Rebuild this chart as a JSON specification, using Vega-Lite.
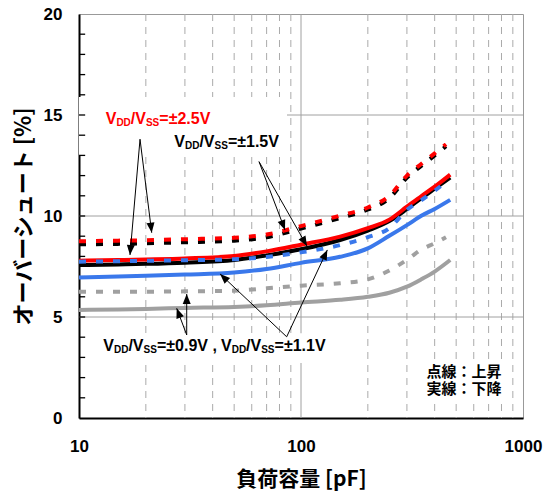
{
  "$schema": "https://vega.github.io/schema/vega-lite/v6.json",
  "width": 444,
  "height": 404,
  "autosize": "none",
  "padding": {"left": 79, "top": 14, "right": 26, "bottom": 82},
  "background": "white",
  "config": {
    "view": {"stroke": "#999999", "strokeWidth": 1},
    "font": "Liberation Sans",
    "axisX": {
      "grid": false, "ticks": false, "domainColor": "black", "domainWidth": 2,
      "labelFont": "Liberation Sans", "labelFontWeight": "bold", "labelFontSize": 17,
      "labelColor": "black", "labelPadding": 20, "labelFlush": false, "labelOverlap": false,
      "titleFont": "Noto Sans CJK JP", "titleFontWeight": "bold", "titleFontSize": 21,
      "titleColor": "black", "titlePadding": 14, "zindex": 1
    },
    "axisY": {
      "grid": false, "ticks": false,
      "domainColor": "black", "domainWidth": 2,
      "labelFont": "Liberation Sans", "labelFontWeight": "bold", "labelFontSize": 17,
      "labelColor": "black", "labelPadding": 17, "labelFlush": false, "labelOverlap": false,
      "titleFont": "Noto Sans CJK JP", "titleFontWeight": "bold", "titleFontSize": 22,
      "titleColor": "black", "titlePadding": 8, "zindex": 1
    }
  },
  "datasets": {
    "curves": [
      {"s": "gf", "x": 10, "y": 5.35}, {"s": "gf", "x": 15, "y": 5.37}, {"s": "gf", "x": 20, "y": 5.4}, {"s": "gf", "x": 30, "y": 5.45}, {"s": "gf", "x": 50, "y": 5.5}, {"s": "gf", "x": 70, "y": 5.58}, {"s": "gf", "x": 100, "y": 5.72}, {"s": "gf", "x": 150, "y": 5.85}, {"s": "gf", "x": 200, "y": 6.0}, {"s": "gf", "x": 250, "y": 6.2}, {"s": "gf", "x": 300, "y": 6.5}, {"s": "gf", "x": 350, "y": 6.88}, {"s": "gf", "x": 400, "y": 7.25}, {"s": "gf", "x": 470, "y": 7.82},
      {"s": "gr", "x": 10, "y": 6.25}, {"s": "gr", "x": 15, "y": 6.25}, {"s": "gr", "x": 20, "y": 6.25}, {"s": "gr", "x": 30, "y": 6.27}, {"s": "gr", "x": 50, "y": 6.3}, {"s": "gr", "x": 70, "y": 6.42}, {"s": "gr", "x": 100, "y": 6.55}, {"s": "gr", "x": 150, "y": 6.67}, {"s": "gr", "x": 200, "y": 6.86}, {"s": "gr", "x": 250, "y": 7.3}, {"s": "gr", "x": 300, "y": 7.83}, {"s": "gr", "x": 350, "y": 8.35}, {"s": "gr", "x": 400, "y": 8.65}, {"s": "gr", "x": 450, "y": 8.95},
      {"s": "bf", "x": 10, "y": 6.96}, {"s": "bf", "x": 15, "y": 7.0}, {"s": "bf", "x": 20, "y": 7.04}, {"s": "bf", "x": 30, "y": 7.1}, {"s": "bf", "x": 50, "y": 7.2}, {"s": "bf", "x": 70, "y": 7.38}, {"s": "bf", "x": 100, "y": 7.68}, {"s": "bf", "x": 150, "y": 7.98}, {"s": "bf", "x": 200, "y": 8.4}, {"s": "bf", "x": 250, "y": 9.02}, {"s": "bf", "x": 300, "y": 9.55}, {"s": "bf", "x": 350, "y": 10.02}, {"s": "bf", "x": 400, "y": 10.35}, {"s": "bf", "x": 470, "y": 10.8},
      {"s": "kf", "x": 10, "y": 7.57}, {"s": "kf", "x": 15, "y": 7.6}, {"s": "kf", "x": 20, "y": 7.63}, {"s": "kf", "x": 30, "y": 7.69}, {"s": "kf", "x": 50, "y": 7.82}, {"s": "kf", "x": 70, "y": 8.05}, {"s": "kf", "x": 100, "y": 8.35}, {"s": "kf", "x": 150, "y": 8.81}, {"s": "kf", "x": 200, "y": 9.28}, {"s": "kf", "x": 250, "y": 9.75}, {"s": "kf", "x": 300, "y": 10.35}, {"s": "kf", "x": 350, "y": 10.9}, {"s": "kf", "x": 400, "y": 11.35}, {"s": "kf", "x": 470, "y": 11.9},
      {"s": "rf", "x": 10, "y": 7.79}, {"s": "rf", "x": 15, "y": 7.82}, {"s": "rf", "x": 20, "y": 7.85}, {"s": "rf", "x": 30, "y": 7.9}, {"s": "rf", "x": 50, "y": 8.02}, {"s": "rf", "x": 70, "y": 8.25}, {"s": "rf", "x": 100, "y": 8.58}, {"s": "rf", "x": 150, "y": 8.98}, {"s": "rf", "x": 200, "y": 9.4}, {"s": "rf", "x": 250, "y": 9.82}, {"s": "rf", "x": 300, "y": 10.46}, {"s": "rf", "x": 350, "y": 11.0}, {"s": "rf", "x": 400, "y": 11.45}, {"s": "rf", "x": 470, "y": 12.05},
      {"s": "br", "x": 10, "y": 7.74}, {"s": "br", "x": 15, "y": 7.76}, {"s": "br", "x": 20, "y": 7.78}, {"s": "br", "x": 30, "y": 7.81}, {"s": "br", "x": 50, "y": 7.86}, {"s": "br", "x": 70, "y": 7.97}, {"s": "br", "x": 100, "y": 8.2}, {"s": "br", "x": 150, "y": 8.56}, {"s": "br", "x": 200, "y": 8.95}, {"s": "br", "x": 250, "y": 9.4}, {"s": "br", "x": 300, "y": 10.3}, {"s": "br", "x": 350, "y": 10.8}, {"s": "br", "x": 400, "y": 11.25}, {"s": "br", "x": 450, "y": 11.68},
      {"s": "kr", "x": 10, "y": 8.6}, {"s": "kr", "x": 15, "y": 8.62}, {"s": "kr", "x": 20, "y": 8.65}, {"s": "kr", "x": 30, "y": 8.7}, {"s": "kr", "x": 50, "y": 8.78}, {"s": "kr", "x": 70, "y": 8.95}, {"s": "kr", "x": 100, "y": 9.38}, {"s": "kr", "x": 150, "y": 9.9}, {"s": "kr", "x": 200, "y": 10.32}, {"s": "kr", "x": 250, "y": 10.88}, {"s": "kr", "x": 300, "y": 11.9}, {"s": "kr", "x": 350, "y": 12.5}, {"s": "kr", "x": 400, "y": 13.0}, {"s": "kr", "x": 450, "y": 13.45},
      {"s": "rr", "x": 10, "y": 8.75}, {"s": "rr", "x": 15, "y": 8.78}, {"s": "rr", "x": 20, "y": 8.8}, {"s": "rr", "x": 30, "y": 8.85}, {"s": "rr", "x": 50, "y": 8.92}, {"s": "rr", "x": 70, "y": 9.08}, {"s": "rr", "x": 100, "y": 9.5}, {"s": "rr", "x": 150, "y": 10.02}, {"s": "rr", "x": 200, "y": 10.42}, {"s": "rr", "x": 250, "y": 11.0}, {"s": "rr", "x": 300, "y": 12.0}, {"s": "rr", "x": 350, "y": 12.6}, {"s": "rr", "x": 400, "y": 13.1}, {"s": "rr", "x": 450, "y": 13.55}
    ],
    "minorx": [{"x": 20}, {"x": 30}, {"x": 40}, {"x": 50}, {"x": 60}, {"x": 70}, {"x": 80}, {"x": 90}, {"x": 200}, {"x": 300}, {"x": 400}, {"x": 500}, {"x": 600}, {"x": 700}, {"x": 800}, {"x": 900}],
    "majorx": [{"x": 100}],
    "majory": [{"y": 5}, {"y": 10}, {"y": 15}],
    "yticks": [{"y": 1}, {"y": 2}, {"y": 3}, {"y": 4}, {"y": 5}, {"y": 6}, {"y": 7}, {"y": 8}, {"y": 9}, {"y": 10}, {"y": 11}, {"y": 12}, {"y": 13}, {"y": 14}, {"y": 15}, {"y": 16}, {"y": 17}, {"y": 18}, {"y": 19}],
    "boxes": [
      {"x": 10, "x2": 86.5, "y": 15.89, "y2": 13.02},
      {"x": 10.3, "x2": 135, "y": 4.2, "y2": 2.72},
      {"x": 336, "x2": 830, "y": 2.77, "y2": 0.99}
    ],
    "arrows": [
      {"x": 18.83, "y": 13.8, "x2": 21.26, "y2": 9.17, "a": 172.9},
      {"x": 18.83, "y": 13.8, "x2": 16.97, "y2": 8.07, "a": 184.9},
      {"x": 64.7, "y": 12.69, "x2": 84.7, "y2": 9.31, "a": 159.2},
      {"x": 64.7, "y": 12.69, "x2": 106.4, "y2": 8.51, "a": 150.3},
      {"x": 30.56, "y": 4.11, "x2": 30.56, "y2": 6.14, "a": 0},
      {"x": 30.56, "y": 4.11, "x2": 27.55, "y2": 5.43, "a": 339.5},
      {"x": 86.2, "y": 4.02, "x2": 43.2, "y2": 7.13, "a": 313.2},
      {"x": 86.2, "y": 4.02, "x2": 131.4, "y2": 8.32, "a": 25.1}
    ],
    "ann": [
      {"v": "=±2.5V", "c": "#FF0000", "x": 13.19, "y": 14.55},
      {"v": "=±1.5V", "c": "#000000", "x": 26.87, "y": 13.43},
      {"v": "=±0.9V ,", "c": "#000000", "x": 12.87, "y": 3.34},
      {"v": "=±1.1V", "c": "#000000", "x": 43.6, "y": 3.34}
    ],
    "note": [
      {"t": ["点線：上昇", "実線：下降"], "x": 801, "y": 2.05}
    ]
  },
  "layer": [
    {
      "data": {"name": "minorx"},
      "mark": {"type": "rule", "color": "#AAAAAA", "strokeWidth": 1, "strokeDash": [7, 6]},
      "encoding": {
        "x": {"field": "x", "type": "quantitative", "scale": {"type": "log", "domain": [10, 1000]},
              "axis": {"values": [10, 100, 1000], "format": "d", "labelOverlap": false}, "title": "負荷容量 [pF]"}
      }
    },
    {
      "data": {"name": "majorx"},
      "mark": {"type": "rule", "color": "#A0A0A0", "strokeWidth": 1},
      "encoding": {"x": {"field": "x", "type": "quantitative"}}
    },
    {
      "data": {"name": "majory"},
      "mark": {"type": "rule", "color": "#A0A0A0", "strokeWidth": 1},
      "encoding": {
        "y": {"field": "y", "type": "quantitative", "scale": {"domain": [0, 20]},
              "axis": {"values": [0, 5, 10, 15, 20], "labelOverlap": false},
              "title": "オーバーシュート [%]"}
      }
    },
    {
      "data": {"name": "boxes"},
      "mark": {"type": "rect", "color": "white"},
      "encoding": {
        "x": {"field": "x", "type": "quantitative"}, "x2": {"field": "x2"},
        "y": {"field": "y", "type": "quantitative"}, "y2": {"field": "y2"}
      }
    },
    {
      "data": {"name": "yticks"},
      "mark": {"type": "rule", "color": "black", "strokeWidth": 1.3},
      "encoding": {
        "y": {"field": "y", "type": "quantitative"},
        "x": {"datum": 10, "type": "quantitative"},
        "x2": {"datum": 10.66}
      }
    },
    {
      "data": {"name": "curves"},
      "transform": [{"filter": "datum.s === 'gf'"}],
      "mark": {"type": "line", "color": "#A0A0A0", "strokeWidth": 4, "interpolate": "monotone"},
      "encoding": {"x": {"field": "x", "type": "quantitative"}, "y": {"field": "y", "type": "quantitative"}}
    },
    {
      "data": {"name": "curves"},
      "transform": [{"filter": "datum.s === 'gr'"}],
      "mark": {"type": "line", "color": "#A0A0A0", "strokeWidth": 4, "strokeDash": [7, 10], "interpolate": "monotone"},
      "encoding": {"x": {"field": "x", "type": "quantitative"}, "y": {"field": "y", "type": "quantitative"}}
    },
    {
      "data": {"name": "curves"},
      "transform": [{"filter": "datum.s === 'bf'"}],
      "mark": {"type": "line", "color": "#3A78EB", "strokeWidth": 4, "interpolate": "monotone"},
      "encoding": {"x": {"field": "x", "type": "quantitative"}, "y": {"field": "y", "type": "quantitative"}}
    },
    {
      "data": {"name": "curves"},
      "transform": [{"filter": "datum.s === 'kf'"}],
      "mark": {"type": "line", "color": "#000000", "strokeWidth": 4, "interpolate": "monotone"},
      "encoding": {"x": {"field": "x", "type": "quantitative"}, "y": {"field": "y", "type": "quantitative"}}
    },
    {
      "data": {"name": "curves"},
      "transform": [{"filter": "datum.s === 'rf'"}],
      "mark": {"type": "line", "color": "#FF0000", "strokeWidth": 4, "interpolate": "monotone"},
      "encoding": {"x": {"field": "x", "type": "quantitative"}, "y": {"field": "y", "type": "quantitative"}}
    },
    {
      "data": {"name": "curves"},
      "transform": [{"filter": "datum.s === 'br'"}],
      "mark": {"type": "line", "color": "#3A78EB", "strokeWidth": 4, "strokeDash": [7, 10], "interpolate": "monotone"},
      "encoding": {"x": {"field": "x", "type": "quantitative"}, "y": {"field": "y", "type": "quantitative"}}
    },
    {
      "data": {"name": "curves"},
      "transform": [{"filter": "datum.s === 'kr'"}],
      "mark": {"type": "line", "color": "#000000", "strokeWidth": 4, "strokeDash": [7, 10], "interpolate": "monotone"},
      "encoding": {"x": {"field": "x", "type": "quantitative"}, "y": {"field": "y", "type": "quantitative"}}
    },
    {
      "data": {"name": "curves"},
      "transform": [{"filter": "datum.s === 'rr'"}],
      "mark": {"type": "line", "color": "#FF0000", "strokeWidth": 4, "strokeDash": [7, 10], "interpolate": "monotone"},
      "encoding": {"x": {"field": "x", "type": "quantitative"}, "y": {"field": "y", "type": "quantitative"}}
    },
    {
      "data": {"name": "arrows"},
      "mark": {"type": "rule", "color": "black", "strokeWidth": 1},
      "encoding": {
        "x": {"field": "x", "type": "quantitative"}, "y": {"field": "y", "type": "quantitative"},
        "x2": {"field": "x2"}, "y2": {"field": "y2"}
      }
    },
    {
      "data": {"name": "arrows"},
      "mark": {"type": "point", "shape": "M0,0L-0.4,1L0.4,1Z", "filled": true, "color": "black", "size": 400, "opacity": 1, "strokeWidth": 0},
      "encoding": {
        "x": {"field": "x2", "type": "quantitative"}, "y": {"field": "y2", "type": "quantitative"},
        "angle": {"field": "a", "type": "quantitative", "scale": null}
      }
    },
    {
      "data": {"name": "ann"},
      "mark": {"type": "text", "text": "V", "align": "left", "baseline": "alphabetic", "font": "Liberation Sans", "fontWeight": "bold", "fontSize": 16},
      "encoding": {"x": {"field": "x", "type": "quantitative"}, "y": {"field": "y", "type": "quantitative"}, "color": {"field": "c", "type": "nominal", "scale": null}}
    },
    {
      "data": {"name": "ann"},
      "mark": {"type": "text", "text": "DD", "align": "left", "baseline": "alphabetic", "dx": 10.7, "dy": 2, "font": "Liberation Sans", "fontWeight": "bold", "fontSize": 10},
      "encoding": {"x": {"field": "x", "type": "quantitative"}, "y": {"field": "y", "type": "quantitative"}, "color": {"field": "c", "type": "nominal", "scale": null}}
    },
    {
      "data": {"name": "ann"},
      "mark": {"type": "text", "text": "/V", "align": "left", "baseline": "alphabetic", "dx": 25.1, "font": "Liberation Sans", "fontWeight": "bold", "fontSize": 16},
      "encoding": {"x": {"field": "x", "type": "quantitative"}, "y": {"field": "y", "type": "quantitative"}, "color": {"field": "c", "type": "nominal", "scale": null}}
    },
    {
      "data": {"name": "ann"},
      "mark": {"type": "text", "text": "SS", "align": "left", "baseline": "alphabetic", "dx": 40.2, "dy": 2, "font": "Liberation Sans", "fontWeight": "bold", "fontSize": 10},
      "encoding": {"x": {"field": "x", "type": "quantitative"}, "y": {"field": "y", "type": "quantitative"}, "color": {"field": "c", "type": "nominal", "scale": null}}
    },
    {
      "data": {"name": "ann"},
      "mark": {"type": "text", "align": "left", "baseline": "alphabetic", "dx": 53.6, "font": "Liberation Sans", "fontWeight": "bold", "fontSize": 16},
      "encoding": {"x": {"field": "x", "type": "quantitative"}, "y": {"field": "y", "type": "quantitative"}, "text": {"field": "v"}, "color": {"field": "c", "type": "nominal", "scale": null}}
    },
    {
      "data": {"name": "note"},
      "mark": {"type": "text", "align": "right", "baseline": "alphabetic", "lineHeight": 17.5, "font": "Noto Sans CJK JP", "fontWeight": "bold", "fontSize": 15, "color": "black"},
      "encoding": {"x": {"field": "x", "type": "quantitative"}, "y": {"field": "y", "type": "quantitative"}, "text": {"field": "t"}}
    }
  ]
}
